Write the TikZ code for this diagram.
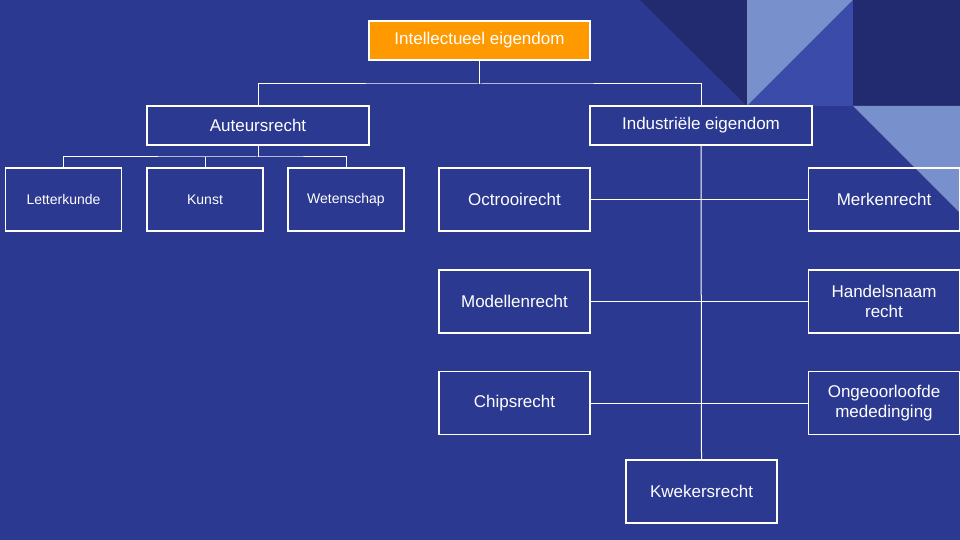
\documentclass[tikz,border=0pt]{standalone}
\usepackage{fontspec}
\setmainfont{Liberation Sans}
\usepackage{tikz}
\usetikzlibrary{positioning}
\definecolor{bgblue}{HTML}{2B3990}
\definecolor{darkblue}{HTML}{232B70}
\definecolor{lightblue}{HTML}{7890CC}
\definecolor{midblue}{HTML}{3A4BAA}
\definecolor{orangebox}{HTML}{FF9900}
\tikzset{
  blok/.style={draw=white, line width=1.2pt, text=white, align=center, font=\fontsize{17}{20}\selectfont, inner sep=0pt},
  klein/.style={blok, minimum width=116pt, minimum height=63pt, font=\fontsize{14}{17}\selectfont},
  groot/.style={blok, minimum width=151pt, minimum height=63pt},
  lijn/.style={draw=white, line width=1pt}
}
\begin{document}
\begin{tikzpicture}[x=1pt, y=-1pt]
  \clip (0,0) rectangle (960,540);
  \fill[bgblue] (0,0) rectangle (960,540);
  % decoratie rechtsboven
  \fill[darkblue] (640,0) -- (747,0) -- (747,106) -- cycle;
  \fill[lightblue] (747,0) -- (853,0) -- (747,106) -- cycle;
  \fill[midblue] (853,0) -- (853,106) -- (747,106) -- cycle;
  \fill[darkblue] (853,0) rectangle (960,106);
  \fill[lightblue] (853,106) -- (960,106) -- (960,213) -- cycle;

  \node[blok, fill=orangebox, minimum width=221pt, minimum height=39pt] (ie) at (479.5,40.5) {Intellectueel eigendom};
  \node[blok, fill=bgblue, minimum width=222pt, minimum height=39pt] (ar) at (258,125.5) {Auteursrecht};
  \node[blok, fill=bgblue, minimum width=222pt, minimum height=39pt] (ind) at (701,125.5) {Industriële eigendom};

  \node[klein] (lk) at (63.5,199.5) {Letterkunde};
  \node[klein] (ku) at (205,199.5) {Kunst};
  \node[klein] (ws) at (346,199.5) {Wetenschap};

  \node[groot] (oc) at (514.5,199.5) {Octrooirecht};
  \node[groot] (mo) at (514.5,301.5) {Modellenrecht};
  \node[groot] (ch) at (514.5,403) {Chipsrecht};
  \node[groot] (kw) at (701.5,491.5) {Kwekersrecht};
  \node[groot] (me) at (884,199.5) {Merkenrecht};
  \node[groot] (hn) at (884,301.5) {Handelsnaam\\recht};
  \node[groot] (om) at (884,403) {Ongeoorloofde\\mededinging};

  \coordinate (ieo) at (479.5,84);
  \draw[lijn] (ie.south) -- (ieo);
  \draw[lijn] (ar.north) |- (ieo) -| (ind.north);
  \coordinate (aro) at (258,157);
  \draw[lijn] (ar.south) -- (aro);
  \draw[lijn] (lk.north) |- (aro) -| (ws.north);
  \draw[lijn] (ku.north) -- (ku.north |- aro);
  \draw[lijn] (ind.south) -- (kw.north);
  \draw[lijn] (oc) -- (me);
  \draw[lijn] (mo) -- (hn);
  \draw[lijn] (ch) -- (om);
\end{tikzpicture}
\end{document}
